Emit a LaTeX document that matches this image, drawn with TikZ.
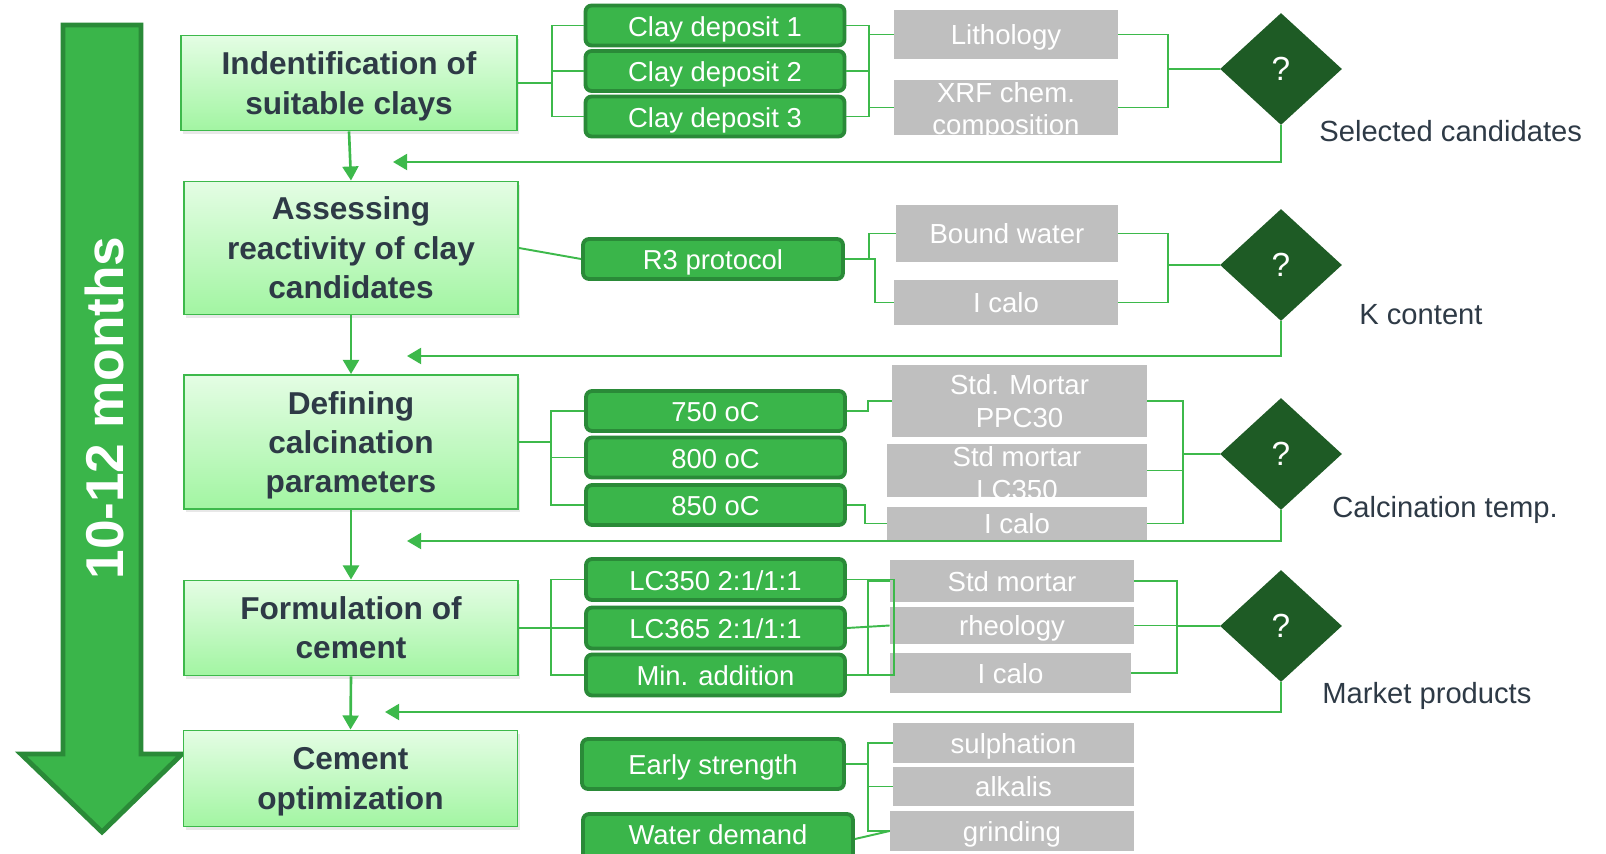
\documentclass[tikz,border=0pt]{standalone}
\usepackage{fontspec}
\setmainfont{Liberation Sans}
\usetikzlibrary{arrows.meta,shapes.geometric,shadows}
\definecolor{linegreen}{HTML}{3DB94B}
\definecolor{boxgreen}{HTML}{3AB54A}
\definecolor{boxedge}{HTML}{2A8A38}
\definecolor{qgreen}{HTML}{1E5B25}
\definecolor{boxgrey}{HTML}{BFBFBF}
\definecolor{txtdark}{HTML}{2E3A46}
\definecolor{lighttop}{HTML}{E4FDE4}
\definecolor{lightbot}{HTML}{A2F5A2}
\newlength\px
\setlength\px{0.02cm}
\newcommand{\nodesc}[1]{\raisebox{0pt}[\height][0pt]{#1}}
\tikzset{
  stage/.style={draw=linegreen, line width=1.1pt, top color=lighttop, bottom color=lightbot,
    drop shadow={opacity=0.18, shadow xshift=1.2pt, shadow yshift=-1.8pt},
    font=\fontsize{18}{22.4}\selectfont\bfseries, text=txtdark, align=center,
    inner sep=0pt, minimum width=334\px},
  task/.style={draw=boxedge, fill=boxgreen, line width=2.2pt, rounded corners=3.5pt,
    text=white, font=\fontsize{15.6}{18.7}\selectfont, inner sep=0pt,
    text height=12.2pt, text depth=0pt,
    minimum width=259\px, minimum height=40\px},
  check/.style={fill=boxgrey, text=white, font=\fontsize{15.7}{18.7}\selectfont,
    align=center, inner sep=0pt},
  checkline/.style={check, text height=11.9pt, text depth=0pt},
  ask/.style={diamond, fill=qgreen, text=white, font=\fontsize{19}{22}\selectfont,
    minimum width=122\px, minimum height=112\px, inner sep=0pt},
  result/.style={text=txtdark, font=\fontsize{16.6}{20}\selectfont, anchor=base west, inner sep=0pt},
  link/.style={linegreen, line width=1.1pt},
  back/.style={linegreen, line width=1.5pt, -{Triangle[length=8pt,width=9pt]}},
}

\begin{document}
\begin{tikzpicture}[x=0.02cm, y=-0.02cm]
		%%%%% START %%%%%
		\fill[white] (0,0) rectangle (1606,854);
		\useasboundingbox (0,0) rectangle (1606,854);
		
		% time arrow
		\draw[fill=boxgreen, draw=boxedge, line width=2.8pt] (63,25) -- (141,25) -- (141,754) -- (182,754) -- (102,832) -- (21,754) -- (63,754) -- cycle;
		\node[rotate=90, text=white, font=\fontsize{30.3}{31}\selectfont\bfseries] (dur) at (104,408) {10-12 months};
		
		% stages
		\node[stage, minimum width=336\px, minimum height=95\px] (b1) at (349,83) {Indentification of\\\nodesc{suitable clays}};
		\node[stage, minimum height=133\px] (b2) at (351,248) {Assessing\\reactivity of clay\\candidates};
		\node[stage, minimum height=134\px] (b3) at (351,442) {Defining\\calcination\\\nodesc{parameters}};
		\node[stage, minimum height=95\px] (b4) at (351,628) {Formulation of\\cement};
		\node[stage, minimum height=96\px] (b5) at (350.5,778.5) {Cement\\\nodesc{optimization}};
		
		% tasks
		\node[task] (cd1) at (715,25.5) {Clay deposit 1};
		\node[task] (cd2) at (715,71) {Clay deposit 2};
		\node[task] (cd3) at (715,116.5) {Clay deposit 3};
		\node[task, minimum width=260\px] (r3) at (713,259) {R3 protocol};
		\node[task] (t750) at (715.5,411) {750 oC};
		\node[task] (t800) at (715.5,457.5) {800 oC};
		\node[task] (t850) at (715.5,505) {850 oC};
		\node[task, minimum height=41\px] (lc1) at (715.5,579.5) {LC350 2:1/1:1};
		\node[task, minimum height=41\px] (lc2) at (715.5,628) {LC365 2:1/1:1};
		\node[task, minimum height=41\px] (lc3) at (715.5,675) {Min. addition};
		\node[task, minimum width=262\px, minimum height=50\px] (es) at (713,764) {Early strength};
		\node[task, minimum width=270\px, minimum height=50\px, text height=6.8pt] (wd) at (718,839) {Water demand};
		
		% checks
		\node[checkline, minimum width=224\px, minimum height=49\px] (lith) at (1006,34.5) {Lithology};
		\node[check, minimum width=224\px, minimum height=55\px] (xrf) at (1006,107.5) {};
		\begin{scope}
			\clip (xrf.south west) rectangle (xrf.north east);
			\node[check, fill=none] (xrft) at ([yshift=-2.2pt]xrf.center) {XRF chem.\\composition};
		\end{scope}
		\node[checkline, minimum width=222\px, minimum height=57\px] (bw) at (1007,233.5) {Bound water};
		\node[checkline, minimum width=224\px, minimum height=45\px] (ic2) at (1006,302.5) {I calo};
		\node[check, minimum width=255\px, minimum height=72\px] (mppc) at (1019.5,401) {Std. Mortar\\PPC30};
		\node[check, minimum width=260\px, minimum height=53\px] (mlc) at (1017,470.5) {};
		\begin{scope}
			\clip (mlc.south west) rectangle (mlc.north east);
			\node[check, fill=none] (mlct) at ([yshift=-1.5pt]mlc.center) {Std mortar\\LC350};
		\end{scope}
		\node[checkline, minimum width=260\px, minimum height=33\px] (ic3) at (1017,523.5) {I calo};
		\node[checkline, minimum width=244\px, minimum height=42\px] (ms) at (1012,581) {Std mortar};
		\node[checkline, minimum width=244\px, minimum height=37\px] (rh) at (1012,625.5) {rheology};
		\node[checkline, minimum width=241\px, minimum height=40\px] (ic4) at (1010.5,673) {I calo};
		\node[checkline, minimum width=241\px, minimum height=40\px] (sul) at (1013.5,743) {sulphation};
		\node[checkline, minimum width=241\px, minimum height=39\px] (alk) at (1013.5,786.5) {alkalis};
		\node[checkline, minimum width=244\px, minimum height=40\px] (grd) at (1012,831) {grinding};
		
		% decisions
		\node[ask] (q1) at (1281,69) {?};
		\node[ask] (q2) at (1281,265) {?};
		\node[ask] (q3) at (1281,454) {?};
		\node[ask] (q4) at (1281,626) {?};
		\node[result] (sel) at (1319,142) {Selected candidates};
		\node[result] (kc) at (1359,325) {K content};
		\node[result] (ct) at (1332,518) {Calcination temp.};
		\node[result] (mp) at (1322,703) {Market products};
		
		% row 1
		\draw[link] (b1.east) -- ++(33,0);
		\draw[link] (cd1.west) -- ++(-32,0) |- (cd3.west);
		\draw[link] (cd2.west) -- ++(-32,0);
		\draw[link] (cd1.east) -- ++(23,0) |- (cd3.east);
		\draw[link] (cd2.east) -- ++(23,0);
		\draw[link] (lith.west) -- ++(-25,0);
		\draw[link] (xrf.west) -- ++(-25,0);
		\draw[link] (lith.east) -- ++(50,0) |- (xrf.east);
		\draw[link] (q1.west) -- ++(-53,0);
		
		% row 2
		\draw[link] (b2.east) -- (r3.west);
		\draw[link] (r3.east) -- ++(24,0) |- (bw.west);
		\draw[link] (r3.east) -- ++(30,0) |- (ic2.west);
		\draw[link] (bw.east) -- ++(50,0) |- (ic2.east);
		\draw[link] (q2.west) -- ++(-53,0);
		
		% row 3
		\draw[link] (b3.east) -- ++(33,0);
		\draw[link] (t750.west) -- ++(-33,0) |- (t850.west);
		\draw[link] (t800.west) -- ++(-33,0);
		\draw[link] (t750.east) -- ++(21,0) |- (mppc.west);
		\draw[link] (t850.east) -- ++(18,0) |- (ic3.west);
		\draw[link] (mppc.east) -- ++(36,0) |- (ic3.east);
		\draw[link] (mlc.east) -- ++(36,0);
		\draw[link] (q3.west) -- ++(-38,0);
		
		% row 4
		\draw[link] (b4.east) -- ++(33,0);
		\draw[link] (lc1.west) -- ++(-33,0) |- (lc3.west);
		\draw[link] (lc2.west) -- ++(-33,0);
		\draw[link] (lc1.east) -- ++(47,0) |- (lc3.east);
		\draw[link] (ms.west) -- ++(-22,0) |- (lc3.east);
		\draw[link] (lc2.east) -- (rh.west);
		\draw[link] (ms.east) -- ++(43,0) |- (ic4.east);
		\draw[link] (rh.east) -- ++(43,0);
		\draw[link] (q4.west) -- ++(-44,0);
		
		% row 5
		\draw[link] (es.east) -- ++(22,0);
		\draw[link] (sul.west) -- ++(-25,0) |- (grd.west);
		\draw[link] (alk.west) -- ++(-25,0);
		\draw[link] (wd.east) -- (grd.west);
		
		% flow and feedback
		\coordinate (fb1) at (393,162);
		\coordinate (fb2) at (407,356);
		\coordinate (fb3) at (407,541);
		\coordinate (fb4) at (385,712);
		\draw[back] (b1.south) -- (b2.north);
		\draw[back] (b2.south) -- (b3.north);
		\draw[back] (b3.south) -- (b4.north);
		\draw[back] (b4.south) -- (b5.north);
		\draw[back] (q1.south) |- (fb1);
		\draw[back] (q2.south) |- (fb2);
		\draw[back] (q3.south) |- (fb3);
		\draw[back] (q4.south) |- (fb4);
		%%%%% END %%%%%
\end{tikzpicture}
\end{document}
